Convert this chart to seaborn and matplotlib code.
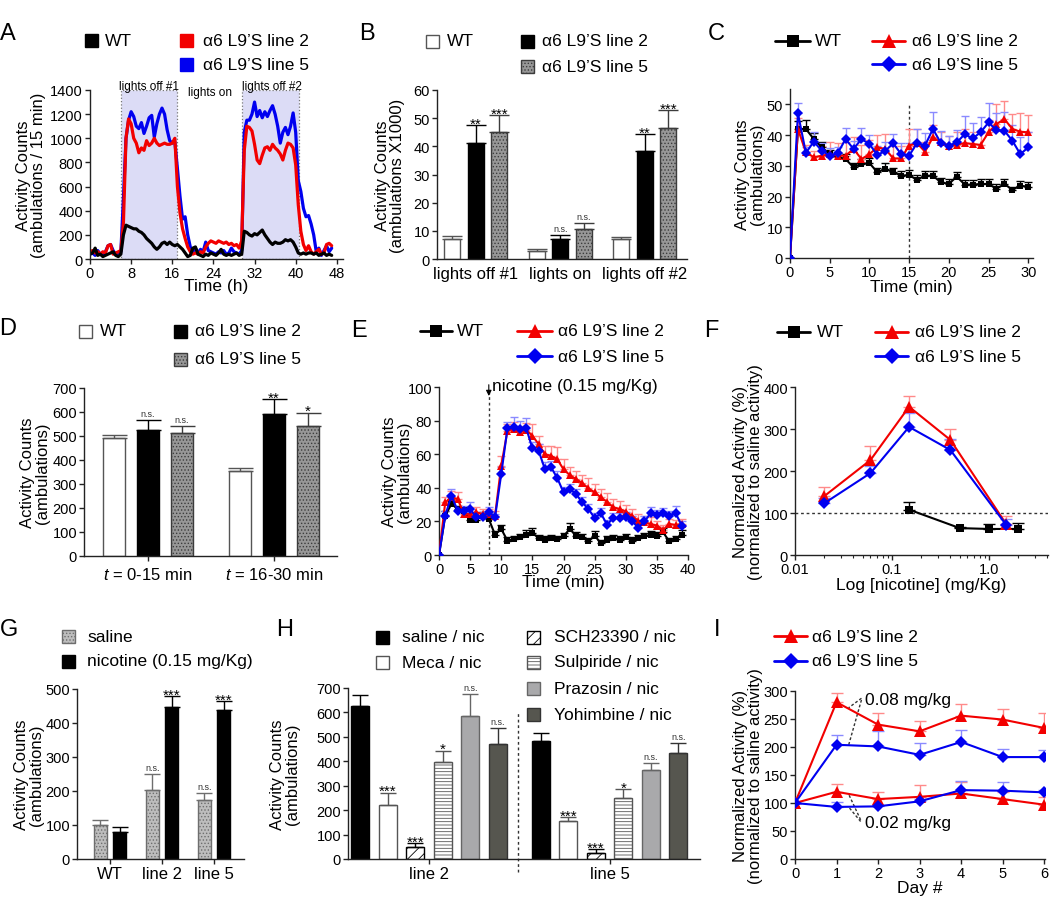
import numpy as np
import pandas as pd
import matplotlib
matplotlib.use("Agg")
import matplotlib.pyplot as plt
import seaborn as sns
from matplotlib.patches import Rectangle
from matplotlib.lines import Line2D
from matplotlib.ticker import LogLocator, NullFormatter

sns.set_style("ticks")
plt.rcParams["font.family"] = ["Liberation Sans", "DejaVu Sans"]
plt.rcParams["mathtext.fontset"] = "custom"
plt.rcParams["mathtext.it"] = "Liberation Sans:italic"
plt.rcParams["mathtext.rm"] = "Liberation Sans"
plt.rcParams["hatch.linewidth"] = 0.6
plt.rcParams["text.color"] = "black"
plt.rcParams["axes.labelcolor"] = "black"

# ------------------------------------------------------------------ data
L2 = "\u03b16 L9\u2019S line 2"
L5 = "\u03b16 L9\u2019S line 5"
GENO = ["WT", L2, L5]

# A: 48 h home-cage activity, 30-min readings
A_hours = np.arange(0, 47.5, 0.5)
A_wt = [40, 50, 90, 30, 40, 20, 30, 40, 50, 60,
        30, 20, 40, 200, 280, 270, 260, 250, 250, 230,
        220, 200, 170, 150, 130, 100, 80, 100, 130, 140,
        120, 140, 120, 110, 120, 100, 80, 50, 20, 30,
        90, 100, 40, 30, 20, 40, 30, 50, 40, 30,
        50, 80, 40, 30, 40, 30, 40, 50, 30, 40,
        230, 220, 200, 190, 210, 200, 220, 240, 200, 170,
        140, 120, 140, 130, 130, 140, 160, 150, 160, 140,
        100, 50, 40, 50, 40, 50, 50, 40, 50, 30,
        40, 50, 30, 40, 30]
A_l2 = [60, 70, 50, 60, 40, 60, 50, 110, 120, 40,
        50, 60, 70, 300, 1000, 1160, 1120, 1000, 960, 880,
        920, 900, 980, 940, 960, 1000, 960, 940, 950, 960,
        950, 950, 960, 1000, 600, 380, 250, 170, 100, 60,
        40, 50, 40, 60, 50, 100, 130, 150, 140, 130,
        150, 140, 130, 140, 120, 130, 110, 120, 90, 150,
        900, 1100, 1090, 1060, 950, 820, 790, 860, 920, 930,
        900, 950, 920, 900, 870, 820, 900, 960, 950, 920,
        780, 450, 230, 120, 70, 110, 60, 40, 60, 80,
        40, 50, 120, 130, 110]
A_l5 = [40, 50, 30, 70, 40, 30, 60, 110, 120, 70,
        40, 50, 60, 500, 1000, 1150, 1220, 1180, 1100, 1080,
        1130, 1040, 1100, 1170, 1190, 1010, 1120, 1200, 1250, 1200,
        1070, 980, 960, 970, 750, 520, 330, 350, 200, 100,
        60, 90, 50, 80, 60, 140, 70, 60, 50, 40,
        60, 50, 70, 40, 50, 90, 60, 50, 40, 70,
        1050, 1150, 1150, 1200, 1300, 1180, 1230, 1170, 1220, 1180,
        1230, 1270, 1200, 1100, 960, 1050, 1090, 1030, 1100, 1210,
        1050, 650, 560, 420, 350, 360, 290, 200, 60, 90,
        30, 70, 110, 60, 90]
A_lights_off = [(6.0, 17.0), (29.6, 40.6)]

# B
B_periods = ["lights off #1", "lights on", "lights off #2"]
B_wt = [7.2, 3.0, 7.0]
B_wt_err = [1.0, 0.4, 0.8]
B_l2 = [41.3, 7.0, 38.4]
B_l2_err = [6.3, 1.5, 6.0]
B_l5 = [45.2, 10.8, 46.6]
B_l5_err = [5.9, 2.0, 6.3]
B_wt_sig = ["", "", ""]
B_l2_sig = ["**", "n.s.", "**"]
B_l5_sig = ["***", "n.s.", "***"]

# C
C_t = list(range(31))
C_wt = [0, 42, 42, 38.7, 36, 33.8, 32.8, 32.2, 29.5, 30.6, 30.9, 27.9, 29, 27.9, 26.8, 27,
        25.4, 26.8, 26.8, 24.6, 24.1, 26.5, 23.9, 23.9, 24.1, 24.1, 22.5, 24.1, 22.2, 23.5, 23.2]
C_wt_err = [0, 2.5, 2.8, 2, 1.8, 1.5, 1.5, 1.5, 1.5, 1.5, 1.5, 1.5, 2, 1.5, 1.5, 1.5,
            1.5, 1.5, 1.5, 1.5, 1.5, 1.5, 1.5, 1.5, 1.5, 1.5, 1.5, 1.5, 1, 1.5, 1.5]
C_l2 = [0, 42, 34.4, 32.8, 33.3, 33.8, 33.3, 33.3, 35.5, 32.2, 33.8, 36, 35.5, 32.4, 32.4, 36.6,
        37.4, 34.6, 39.3, 37.6, 36.6, 36.9, 37.4, 37.1, 36.8, 40.9, 43.6, 45.2, 42, 41.1, 40.9]
C_l2_err = [0, 3.5, 2.5, 2, 3, 4, 4, 4.5, 4, 4.5, 4.5, 4, 5, 4, 4, 5.5,
            4.5, 3, 4, 3.5, 3, 4, 4.5, 4, 4, 4, 6.5, 6, 5, 6, 5.5]
C_l5 = [0, 47.1, 34.2, 37.9, 34.9, 33.3, 34.1, 38.7, 35.5, 38.7, 37.1, 33.5, 34.9, 37.3, 33.8, 33.3,
        37.4, 36.6, 42, 37.4, 36.6, 37.6, 40.3, 38.9, 40.9, 44.1, 41.6, 41.4, 38.2, 33.8, 36]
C_l5_err = [0, 3.5, 2, 3, 2.5, 2.5, 2, 3.5, 2.5, 3.5, 3, 3, 3, 3, 3.5, 4,
            4.5, 4, 5.5, 4, 3, 4, 6, 5, 5, 6.5, 5.5, 6, 5, 5.5, 5]
C_split = 15

# D
D_windows = [r"$\mathit{t}$ = 0-15 min", r"$\mathit{t}$ = 16-30 min"]
D_wt = [491, 356]
D_wt_err = [15, 12]
D_l2 = [523, 590]
D_l2_err = [45, 65]
D_l5 = [513, 541]
D_l5_err = [30, 56]
D_wt_sig = ["", ""]
D_l2_sig = ["n.s.", "**"]
D_l5_sig = ["n.s.", "*"]

# E
E_t = list(range(40))
E_wt = [0, 23.4, 30.4, 27.4, 26.4, 21, 21, 23.4, 21.4, 12.1, 15.5, 8.5, 9.5, 10.5, 12.1, 13.1,
        10.1, 9.1, 10.1, 9.5, 11.1, 15.5, 11.5, 10.5, 8.1, 11.5, 7.1, 9.1, 9.9, 9.1, 10.5, 8.5,
        10.1, 11.1, 12.1, 11.1, 13.5, 8.1, 9.5, 12.1]
E_wt_err = [0, 3, 3, 2, 2, 2, 2, 2, 3, 2, 2.5, 2, 2, 2, 3, 3, 2, 2, 2, 2, 2, 3.5, 2, 2, 2, 3,
            2, 2, 2, 2, 2, 2, 2, 2, 2, 2.5, 2.5, 2, 2, 3]
E_l2 = [0, 31.3, 34.3, 33.3, 24.4, 24.4, 25.4, 24.4, 24.4, 23.4, 53.2, 74, 75, 73, 74.6, 71,
        66, 60, 59, 57, 51, 47.6, 45.2, 42.9, 39.7, 37.3, 34.3, 31.7, 28.4, 27.4, 25.8, 23.4,
        20.4, 19.4, 18.5, 17.5, 14.9, 18.5, 17.9, 18.5]
E_l2_err = [0, 3, 4, 4, 3, 3, 3, 3, 3, 3, 6, 4, 4, 4, 4, 7, 5, 5, 6, 7, 6, 5, 5, 5, 6, 5,
            5, 5, 5, 5, 4, 4, 4, 4, 4, 3, 3, 3, 3, 3]
E_l5 = [0, 23.4, 35.3, 26.4, 26.4, 27.4, 22.4, 22.4, 25.8, 22.4, 48.2, 75.4, 76, 75, 75.6, 63.5,
        62.1, 51.2, 52.2, 45.8, 37.3, 39.3, 36.3, 31.3, 27.4, 22, 24.8, 18.1, 22, 22, 22.4, 20.4,
        16.1, 20, 24.8, 24, 25, 23.4, 25, 17.5]
E_l5_err = [0, 3, 4, 3, 3, 4, 3, 3, 3, 2, 4, 4, 6, 5, 6, 4, 4, 4, 4, 4, 3, 3, 3, 3, 3, 3,
            3, 3, 3, 3, 3, 3, 3, 3, 4, 3, 3, 3, 4, 3]
E_injection = 8

# F
F_dose_tg = [0.02, 0.06, 0.15, 0.4, 1.5]
F_l2 = [140, 226, 353, 274, 74]
F_l2_err = [23, 34, 26, 27, 20]
F_l5 = [123, 195, 305, 250, 72]
F_l5_err = [12, 18, 34, 26, 14]
F_dose_wt = [0.15, 0.5, 1.0, 2.0]
F_wt = [108, 64, 62, 62]
F_wt_err = [19, 2, 12, 15]
F_baseline = 100

# G
G_groups = ["WT", "line 2", "line 5"]
G_treat = ["saline", "nicotine (0.15 mg/Kg)"]
G_saline = [99, 202, 173]
G_saline_err = [16, 48, 22]
G_nic = [80.5, 447, 438]
G_nic_err = [14, 31, 26]
G_saline_sig = ["", "n.s.", "n.s."]
G_nic_sig = ["", "***", "***"]

# H
H_groups = ["line 2", "line 5"]
H_treat = ["saline / nic", "Meca / nic", "SCH23390 / nic", "Sulpiride / nic",
           "Prazosin / nic", "Yohimbine / nic"]
H_vals = [[626, 485], [220, 156], [48, 26], [396, 249], [585, 364], [471, 434]]
H_errs = [[47, 31], [52, 14], [16, 14], [48, 37], [92, 28], [66, 41]]
H_sigs = [["", ""], ["***", "***"], ["***", "***"], ["*", "*"], ["n.s.", "n.s."], ["n.s.", "n.s."]]

# I
I_days = [0, 1, 2, 3, 4, 5, 6]
I_l2_high = [100, 280, 240, 228, 256, 249, 234]
I_l2_high_err = [0, 16, 21, 18, 20, 19, 27]
I_l5_high = [100, 204, 201, 186, 209, 182, 182]
I_l5_high_err = [0, 17, 28, 21, 21, 14, 12]
I_l2_low = [100, 120, 107, 111, 117, 107, 97]
I_l2_low_err = [0, 14, 12, 21, 20, 12, 13]
I_l5_low = [100, 93, 94, 103, 123, 122, 119]
I_l5_low_err = [0, 8, 3, 4, 17, 16, 4]

# ------------------------------------------------------------------ style
RED, BLUE = "#f20000", "#0000f0"
RED_E, BLUE_E = "#ff8a8a", "#8a8aff"
W, H = 1050, 903
fig = plt.figure(figsize=(W / 100, H / 100), dpi=100)
fig.patch.set_facecolor("white")

BOX = {}


def add_ax(key, l, r, t, b):
    ax = fig.add_axes([l / W, 1 - b / H, (r - l) / W, (b - t) / H])
    BOX[key] = (l, r, t, b)
    sns.despine(ax=ax)
    for s in ["left", "bottom"]:
        ax.spines[s].set_linewidth(1.0)
        ax.spines[s].set_color("#222222")
    ax.tick_params(direction="out", length=3.5, width=1, colors="#222222",
                   labelcolor="black", labelsize=10.5, pad=1.5)
    ax.set_facecolor("none")
    return ax


def ylab(ax, key, text, right_px):
    l, r, t, b = BOX[key]
    ax.set_ylabel(text, fontsize=12, linespacing=1.0)
    ax.yaxis.set_label_coords((right_px - l) / (r - l), 0.5)


def xlab(ax, key, text, top_px):
    l, r, t, b = BOX[key]
    ax.set_xlabel(text, fontsize=12.5)
    ax.xaxis.set_label_coords(0.5, (b - top_px) / (b - t))


def sig(ax, x, y, s):
    if not s:
        return
    if s == "n.s.":
        ax.annotate(s, (x, y), xytext=(0, 1.5), textcoords="offset points",
                    ha="center", va="bottom", fontsize=6.5, color="#333333")
    else:
        ax.annotate(s, (x, y), xytext=(0, -1.8), textcoords="offset points",
                    ha="center", va="baseline", fontsize=11)


def bars(ax, cats, hues, values, errs, sigs, styles, width, gap, cap):
    rows = []
    for h, vals in zip(hues, values):
        for c, v in zip(cats, vals):
            rows.append({"cat": c, "hue": h, "val": v})
    df = pd.DataFrame(rows)
    sns.barplot(data=df, x="cat", y="val", hue="hue", order=cats, hue_order=hues,
                width=width, gap=gap, errorbar=None, saturation=1, legend=False,
                palette={h: "gray" for h in hues}, ax=ax)
    for cont, st, vals, er, sg in zip(ax.containers, styles, values, errs, sigs):
        xs = []
        for bar in cont:
            bar.set_facecolor(st["fc"])
            bar.set_edgecolor(st["ec"])
            bar.set_linewidth(1)
            if st.get("hatch"):
                bar.set_hatch(st["hatch"])
            xs.append(bar.get_x() + bar.get_width() / 2)
        ax.errorbar(xs, vals, yerr=[np.zeros(len(vals)), er], fmt="none",
                    ecolor=st.get("err", st["ec"]), elinewidth=1, capsize=cap,
                    capthick=1, zorder=3)
        for x, v, e, s in zip(xs, vals, er, sg):
            sig(ax, x, v + e, s)
    ax.set_xlabel("")
    ax.set_ylabel("")
    ax.tick_params(axis="x", labelsize=12)


def series(ax, x, y, err, color, ecolor, marker, ms, lw=1.5, cap=3):
    if err is not None:
        ax.errorbar(x, y, yerr=[np.zeros(len(y)), err], fmt="none", ecolor=ecolor,
                    elinewidth=1, capsize=cap, capthick=1, zorder=2)
    sns.lineplot(x=x, y=y, color=color, marker=marker, markersize=ms,
                 markeredgewidth=0, linewidth=lw, errorbar=None, ax=ax, zorder=3)


# legend helpers (figure pixel coordinates)
def fx(x):
    return x / W


def fy(y):
    return 1 - y / H


def leg_text(x, y, s, size=12.5):
    fig.text(fx(x), fy(y), s, ha="left", va="center", fontsize=size)


def leg_square(x, y, s, tx, fc, ec=None, hatch=None, size=13):
    fig.add_artist(Rectangle((fx(x - size / 2), fy(y + size / 2)), size / W, size / H,
                             transform=fig.transFigure, facecolor=fc,
                             edgecolor=ec if ec else fc, hatch=hatch, lw=1))
    leg_text(tx, y, s)


def leg_line(x0, x1, y, s, tx, color, marker, ms):
    fig.add_artist(Line2D([fx(x0), fx(x1)], [fy(y), fy(y)], transform=fig.transFigure,
                          color=color, lw=2))
    fig.add_artist(Line2D([fx((x0 + x1) / 2)], [fy(y)], transform=fig.transFigure,
                          color=color, marker=marker, markersize=ms, markeredgewidth=0))
    leg_text(tx, y, s)


def letter(x, y, s):
    fig.text(fx(x), fy(y), s, ha="center", va="center", fontsize=17)


WT_BAR = dict(fc="white", ec="#555555")
L2_BAR = dict(fc="black", ec="black")
L5_BAR = dict(fc="#979797", ec="#3c3c3c", hatch=".....")

# ------------------------------------------------------------------ A
ax = add_ax("A", 90, 343, 91, 260)
for (s, e) in A_lights_off:
    ax.axvspan(s, e, facecolor="#dcdcf6", edgecolor="#777777", linestyle=":", lw=0.9, zorder=0)
sns.lineplot(x=A_hours, y=A_l5, color=BLUE, linewidth=2.3, ax=ax)
sns.lineplot(x=A_hours, y=A_l2, color=RED, linewidth=2.3, ax=ax)
sns.lineplot(x=A_hours, y=A_wt, color="black", linewidth=2.3, ax=ax)
ax.set_xlim(0, 49.2)
ax.set_ylim(0, 1400)
ax.set_xticks(range(0, 49, 8))
ax.set_yticks(range(0, 1401, 200))
ax.text(11.4, 1432, "lights off #1", ha="center", va="center", fontsize=8.5, clip_on=False)
ax.text(23.3, 1385, "lights on", ha="center", va="center", fontsize=8.5, clip_on=False)
ax.text(35.3, 1432, "lights off #2", ha="center", va="center", fontsize=8.5, clip_on=False)
ylab(ax, "A", "Activity Counts\n(ambulations / 15 min)", 46)
xlab(ax, "A", "Time (h)", 279)
letter(8, 34, "A")
leg_square(91, 41, "WT", 105, "black")
leg_square(186, 41, L2, 203, RED)
leg_square(186, 65, L5, 203, BLUE)

# ------------------------------------------------------------------ B
ax = add_ax("B", 437, 687, 91, 260)
bars(ax, B_periods, GENO, [B_wt, B_l2, B_l5], [B_wt_err, B_l2_err, B_l5_err],
     [B_wt_sig, B_l2_sig, B_l5_sig], [WT_BAR, L2_BAR, L5_BAR], 0.834, 0.32, 7)
ax.set_xlim(-0.46, 2.50)
ax.set_ylim(0, 60)
ax.set_yticks(range(0, 61, 10))
ax.tick_params(axis="x", length=0, pad=5)
ylab(ax, "B", "Activity Counts\n(ambulations X1000)", 405)
letter(367, 34, "B")
leg_square(432, 42, "WT", 447, "white", "#555555")
leg_square(527, 42, L2, 542, "black")
leg_square(527, 67, L5, 542, L5_BAR["fc"], L5_BAR["ec"], L5_BAR["hatch"])

# ------------------------------------------------------------------ C
ax = add_ax("C", 790, 1033, 90, 259)
ax.vlines(C_split, 0, 50, colors="#333333", linestyles=(0, (2, 2)), lw=1, zorder=1)
series(ax, C_t, C_wt, C_wt_err, "black", "black", "s", 4.5)
series(ax, C_t, C_l2, C_l2_err, RED, RED_E, "^", 6)
series(ax, C_t, C_l5, C_l5_err, BLUE, BLUE_E, "D", 5)
ax.set_xlim(0, 30.6)
ax.set_ylim(0, 55)
ax.set_xticks(range(0, 31, 5))
ax.set_yticks(range(0, 51, 10))
ylab(ax, "C", "Activity Counts\n(ambulations)", 765)
xlab(ax, "C", "Time (min)", 280)
letter(716, 34, "C")
leg_line(775, 810, 42, "WT", 815, "black", "s", 8)
leg_line(872, 905, 42, L2, 912, RED, "^", 10)
leg_line(872, 905, 65, L5, 912, BLUE, "D", 8)

# ------------------------------------------------------------------ D
ax = add_ax("D", 84, 337, 389, 557)
bars(ax, D_windows, GENO, [D_wt, D_l2, D_l5], [D_wt_err, D_l2_err, D_l5_err],
     [D_wt_sig, D_l2_sig, D_l5_sig], [WT_BAR, L2_BAR, L5_BAR], 0.81, 0.353, 9)
ax.set_xlim(-0.508, 1.5)
ax.set_ylim(0, 700)
ax.set_yticks(range(0, 701, 100))
ax.tick_params(axis="x", pad=4)
ylab(ax, "D", "Activity Counts\n(ambulations)", 50)
letter(8, 329, "D")
leg_square(85, 332, "WT", 100, "white", "#555555")
leg_square(180, 332, L2, 195, "black")
leg_square(180, 360, L5, 195, L5_BAR["fc"], L5_BAR["ec"], L5_BAR["hatch"])

# ------------------------------------------------------------------ E
ax = add_ax("E", 439, 688, 388, 556)
ax.vlines(E_injection, 0, 97, colors="#333333", linestyles=(0, (2, 2)), lw=1, zorder=1)
ax.annotate("", xy=(E_injection, 93), xytext=(E_injection, 103),
            arrowprops=dict(arrowstyle="-|>", color="black", lw=0.8, mutation_scale=8),
            annotation_clip=False)
ax.text(E_injection + 0.55, 100.8, "nicotine (0.15 mg/Kg)", ha="left", va="center",
        fontsize=12.5, clip_on=False)
series(ax, E_t, E_wt, E_wt_err, "black", "black", "s", 4.5)
series(ax, E_t, E_l2, E_l2_err, RED, RED_E, "^", 6)
series(ax, E_t, E_l5, E_l5_err, BLUE, BLUE_E, "D", 5)
ax.set_xlim(0, 40)
ax.set_ylim(0, 100)
ax.set_xticks(range(0, 41, 5))
ax.set_yticks(range(0, 101, 20))
ylab(ax, "E", "Activity Counts\n(ambulations)", 412)
xlab(ax, "E", "Time (min)", 575)
letter(359, 331, "E")
leg_line(420, 452, 332, "WT", 457, "black", "s", 8)
leg_line(517, 552, 332, L2, 558, RED, "^", 10)
leg_line(517, 552, 357, L5, 558, BLUE, "D", 8)

# ------------------------------------------------------------------ F
ax = add_ax("F", 795, 1048, 388, 556)
ax.axhline(F_baseline, color="#333333", ls=(0, (2, 2)), lw=1, zorder=1)
series(ax, F_dose_wt, F_wt, F_wt_err, "black", "black", "s", 6, cap=4)
series(ax, F_dose_tg, F_l2, F_l2_err, RED, RED_E, "^", 8, cap=4)
series(ax, F_dose_tg, F_l5, F_l5_err, BLUE, BLUE_E, "D", 6, cap=4)
ax.set_xscale("log")
ax.set_xlim(0.01, 4.06)
ax.set_ylim(0, 400)
ax.set_xticks([0.01, 0.1, 1.0])
ax.set_xticklabels(["0.01", "0.1", "1.0"])
ax.xaxis.set_minor_locator(LogLocator(base=10, subs=np.arange(2, 10)))
ax.xaxis.set_minor_formatter(NullFormatter())
ax.tick_params(axis="x", which="minor", length=2.5, width=0.8)
ax.set_yticks(range(0, 401, 100))
ylab(ax, "F", "Normalized Activity (%)\n(normalized to saline activity)", 763)
xlab(ax, "F", "Log [nicotine] (mg/Kg)", 578)
letter(711, 331, "F")
leg_line(777, 810, 333, "WT", 817, "black", "s", 8)
leg_line(875, 908, 333, L2, 915, RED, "^", 10)
leg_line(875, 908, 357, L5, 915, BLUE, "D", 8)

# ------------------------------------------------------------------ G
ax = add_ax("G", 77, 244, 690, 860)
SAL_BAR = dict(fc="#bdbdbd", ec="#6e6e6e", hatch=".....")
NIC_BAR = dict(fc="black", ec="black")
bars(ax, G_groups, G_treat, [G_saline, G_nic], [G_saline_err, G_nic_err],
     [G_saline_sig, G_nic_sig], [SAL_BAR, NIC_BAR], 0.746, 0.33, 6)
ax.set_xlim(-0.635, 2.577)
ax.set_ylim(0, 500)
ax.set_yticks(range(0, 501, 100))
ylab(ax, "G", "Activity Counts\n(ambulations)", 44)
letter(9, 630, "G")
leg_square(68, 637, G_treat[0], 87, SAL_BAR["fc"], SAL_BAR["ec"], SAL_BAR["hatch"])
leg_square(68, 662, G_treat[1], 87, "black")

# ------------------------------------------------------------------ H
ax = add_ax("H", 348, 700, 689, 860)
H_STY = [dict(fc="black", ec="black"),
         dict(fc="white", ec="#555555"),
         dict(fc="white", ec="black", hatch="///"),
         dict(fc="white", ec="#555555", hatch="-----"),
         dict(fc="#a9a9ab", ec="#666666"),
         dict(fc="#56564f", ec="#333333")]
bars(ax, H_groups, H_treat, H_vals, H_errs, H_sigs, H_STY, 0.914, 0.346, 6)
ax.set_xlim(-0.449, 1.501)
ax.set_ylim(0, 700)
ax.set_yticks(range(0, 701, 100))
ax.vlines(0.493, -55, 605, colors="#333333", linestyles=(0, (2, 2)), lw=1, clip_on=False)
ylab(ax, "H", "Activity Counts\n(ambulations)", 300)
letter(285, 630, "H")
for i, (st, lab) in enumerate(zip(H_STY, H_treat)):
    col_x, col_t = (382, 402) if i < 2 else (533, 554)
    row_y = [638, 663][i] if i < 2 else [638, 663, 689, 715][i - 2]
    leg_square(col_x, row_y, lab, col_t, st["fc"], st["ec"], st.get("hatch"))

# ------------------------------------------------------------------ I
ax = add_ax("I", 795, 1045, 692, 860)
series(ax, I_days, I_l2_high, I_l2_high_err, RED, RED_E, "^", 8, cap=4)
series(ax, I_days, I_l5_high, I_l5_high_err, BLUE, BLUE_E, "D", 6, cap=4)
series(ax, I_days, I_l2_low, I_l2_low_err, RED, RED_E, "^", 8, cap=4)
series(ax, I_days, I_l5_low, I_l5_low_err, BLUE, BLUE_E, "D", 6, cap=4)
for (x0, y0, x1, y1) in [(1.60, 287, 1.29, 270), (1.60, 284, 1.29, 203),
                         (1.58, 70, 1.29, 116), (1.58, 67, 1.29, 93)]:
    ax.plot([x0, x1], [y0, y1], color="#333333", ls=(0, (2, 1.5)), lw=1)
ax.text(1.68, 285, "0.08 mg/kg", ha="left", va="center", fontsize=12.5)
ax.text(1.68, 65, "0.02 mg/kg", ha="left", va="center", fontsize=12.5)
ax.set_xlim(0, 6.02)
ax.set_ylim(0, 300)
ax.set_xticks(I_days)
ax.set_yticks(range(0, 301, 50))
ylab(ax, "I", "Normalized Activity (%)\n(normalized to saline activity)", 763)
xlab(ax, "I", "Day #", 881)
letter(717, 630, "I")
leg_line(774, 807, 637, L2, 812, RED, "^", 10)
leg_line(774, 807, 662, L5, 812, BLUE, "D", 8)

fig.savefig("out.png", dpi=100, facecolor="white")
